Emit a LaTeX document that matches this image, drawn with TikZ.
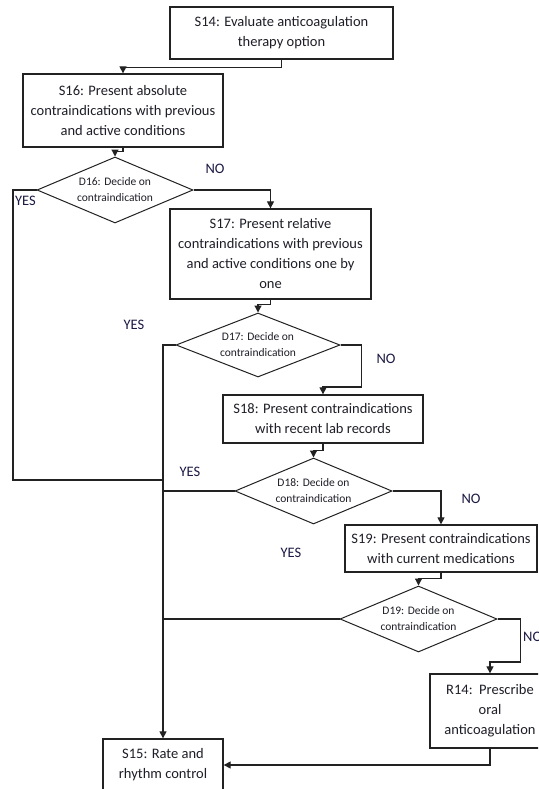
\documentclass[tikz,border=0pt]{standalone}
\usepackage{fontspec}
\setmainfont{Carlito}
\usetikzlibrary{arrows.meta,shapes.geometric}
\definecolor{txt}{HTML}{1E1E28}
\definecolor{lbl}{HTML}{1C1A44}
\definecolor{ln}{HTML}{222222}
\tikzset{
  box/.style={draw=ln, line width=1.3pt, rectangle, inner sep=0pt, align=center,
    text=txt, font=\fontsize{14.5}{20}\selectfont},
  dia/.style={draw=ln, line width=1pt, diamond, inner sep=0pt, align=center, aspect=2.35,
    text=txt, font=\fontsize{11.5}{16}\selectfont},
  conn/.style={draw=ln, line width=1.2pt},
  arr/.style={conn, -{Triangle[length=7pt,width=7pt]}},
  yn/.style={text=lbl, font=\fontsize{14.5}{18}\selectfont, inner sep=0pt}
}
\begin{document}
\begin{tikzpicture}[x=1pt,y=-1pt]
\useasboundingbox (0,0) rectangle (538,789);
\clip (0,0) rectangle (538,789);
\fill[white] (0,0) rectangle (538,789);

% boxes
\node[box, minimum width=223pt, minimum height=52pt] (S14) at (281.5,33) {S14: Evaluate anticoagulation\\therapy option};
\node[box, minimum width=200pt, minimum height=73pt] (S16) at (123,110.5) {S16: Present absolute\\contraindications with previous\\and active conditions};
\node[dia, minimum width=156pt, minimum height=66pt] (D16) at (115,190) {D16: Decide on\\contraindication};
\node[box, minimum width=201pt, minimum height=90pt] (S17) at (270.5,254) {S17: Present relative\\contraindications with previous\\and active conditions one by\\one};
\node[dia, minimum width=164pt, minimum height=64pt] (D17) at (258,345) {D17: Decide on\\contraindication};
\node[box, minimum width=200pt, minimum height=48pt] (S18) at (323,419) {S18: Present contraindications\\with recent lab records};
\node[dia, minimum width=157pt, minimum height=66pt] (D18) at (313.5,491) {D18: Decide on\\contraindication};
\node[box, minimum width=192pt, minimum height=47pt] (S19) at (441,548.5) {S19: Present contraindications\\with current medications};
\node[dia, minimum width=157pt, minimum height=66pt] (D19) at (418.5,619) {D19: Decide on\\contraindication};
\node[box, minimum width=120pt, minimum height=74pt] (R14) at (490,711) {R14:\ \ Prescribe\\oral\\anticoagulation};
\node[box, minimum width=120pt, minimum height=52pt] (S15) at (163,765) {S15: Rate and\\rhythm control};

% helper coordinates
\coordinate (yl) at (13,480);
\coordinate (j1) at (163,480);

% connectors
\draw[arr] (S14.south) -- ++(0,8) -| (S16.north);
\draw[arr] (S16.south) -- ++(0,4) -| (D16.north);
\draw[arr] (D16.east) -| (S17.north);
\draw[conn] (D16.west) -| (yl) -- (j1);
\draw[arr] (S17.south) -- ++(0,5) -| (D17.north);
\draw[arr] (D17.west) -| (S15.north);
\draw[arr] (D17.east) -- ++(21,0) -- ++(0,42) -| (S18.north);
\draw[arr] (S18.south) -- ++(0,7) -| (D18.north);
\draw[conn] (D18.west) -- (D18.west -| j1);
\draw[arr] (D18.east) -| (S19.north);
\draw[arr] (S19.south) -- ++(0,6) -| (D19.north);
\draw[conn] (D19.west) -- (D19.west -| j1);
\draw[arr] (D19.east) -- ++(23,0) -- ++(0,43) -| (R14.north);
\draw[arr] (R14.south) |- (S15.east);

% labels
\node[yn] (n16) at (215,169) {NO};
\node[yn] (y16) at (25.5,201) {YES};
\node[yn] (y17) at (134,325) {YES};
\node[yn] (n17) at (386,359) {NO};
\node[yn] (y18) at (190,472) {YES};
\node[yn] (n18) at (471,499) {NO};
\node[yn] (y19) at (291,553) {YES};
\node[yn, anchor=west] (n19) at (523,637) {NO};
\end{tikzpicture}
\end{document}
